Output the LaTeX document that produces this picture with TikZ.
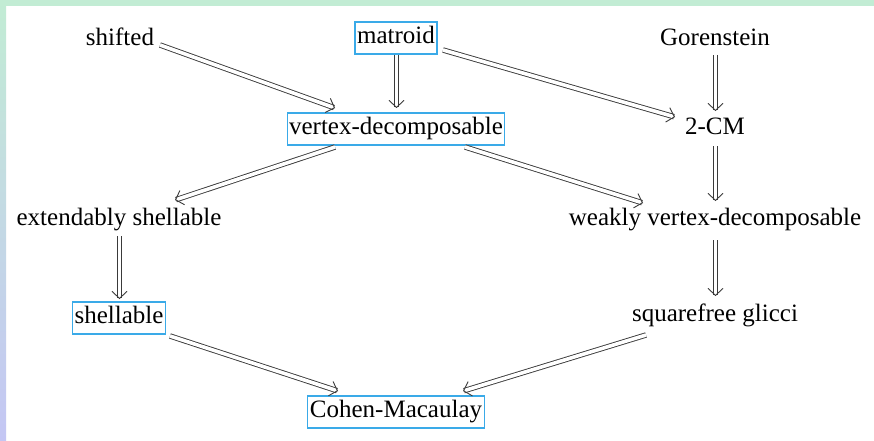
\documentclass[tikz,border=0pt]{standalone}
\usepackage{fontspec}
\setmainfont{Liberation Serif}
\usetikzlibrary{arrows.meta,calc}
\definecolor{boxblue}{HTML}{3AAAE8}
\definecolor{topgreen}{HTML}{C2ECD4}
\definecolor{botblue}{HTML}{C4C6F4}
\definecolor{arrowgray}{HTML}{3A3A3A}
\begin{document}
\begin{tikzpicture}[x=1pt,y=-1pt,
  lbl/.style={font=\fontsize{25}{30}\selectfont, inner sep=0pt, text height=17pt, text depth=6pt},
  boxed/.style={lbl, draw=boxblue, line width=1.1pt, inner xsep=2pt, inner ysep=4.5pt},
  imp/.style={draw=arrowgray, double=white, double distance=3.6pt, line width=0.9pt, -{Straight Barb[length=7pt,width=15pt]}}]
\useasboundingbox (0,0) rectangle (874,441);
\fill[white] (0,0) rectangle (874,441);
\shade[top color=topgreen, bottom color=botblue] (0,0) rectangle (6,441);
\fill[topgreen] (0,0) rectangle (874,6);

\node[lbl]   (shifted) at (120,40) {shifted};
\node[boxed, line width=1.6pt] (matroid) at (396,38) {matroid};
\node[lbl]   (gor)     at (715,40) {Gorenstein};
\node[boxed] (vd)      at (396,129) {vertex-decomposable};
\node[lbl]   (cm2)     at (715,129) {2-CM};
\node[lbl]   (ext)     at (119,220) {extendably shellable};
\node[lbl]   (wvd)     at (715,220) {weakly vertex-decomposable};
\node[boxed] (shell)   at (119,318) {shellable};
\node[lbl]   (sg)      at (715,316) {squarefree glicci};
\node[boxed] (cm)      at (396,412) {Cohen-Macaulay};

\draw[imp] ($(shifted.center)+(40,5)$) -- ($(vd.center)+(-61,-21)$);
\draw[imp] ($(matroid.center)+(0.5,17)$) -- ($(vd.center)+(0.5,-21)$);
\draw[imp] ($(matroid.center)+(47,12)$) -- ($(cm2.center)+(-40,-12)$);
\draw[imp] ($(gor.center)+(0.5,15)$) -- ($(cm2.center)+(0.5,-18)$);
\draw[imp] ($(vd.center)+(-61,18)$) -- ($(ext.center)+(56,-20)$);
\draw[imp] ($(vd.center)+(69,18)$) -- ($(wvd.center)+(-72,-17)$);
\draw[imp] ($(cm2.center)+(0.5,17)$) -- ($(wvd.center)+(0.5,-19)$);
\draw[imp] ($(ext.center)+(0.5,16)$) -- ($(shell.center)+(0.5,-19)$);
\draw[imp] ($(wvd.center)+(0.5,20)$) -- ($(sg.center)+(0.5,-20)$);
\draw[imp] ($(shell.center)+(51,18)$) -- ($(cm.center)+(-58,-21)$);
\draw[imp] ($(sg.center)+(-69,19)$) -- ($(cm.center)+(67,-21)$);
\end{tikzpicture}
\end{document}
